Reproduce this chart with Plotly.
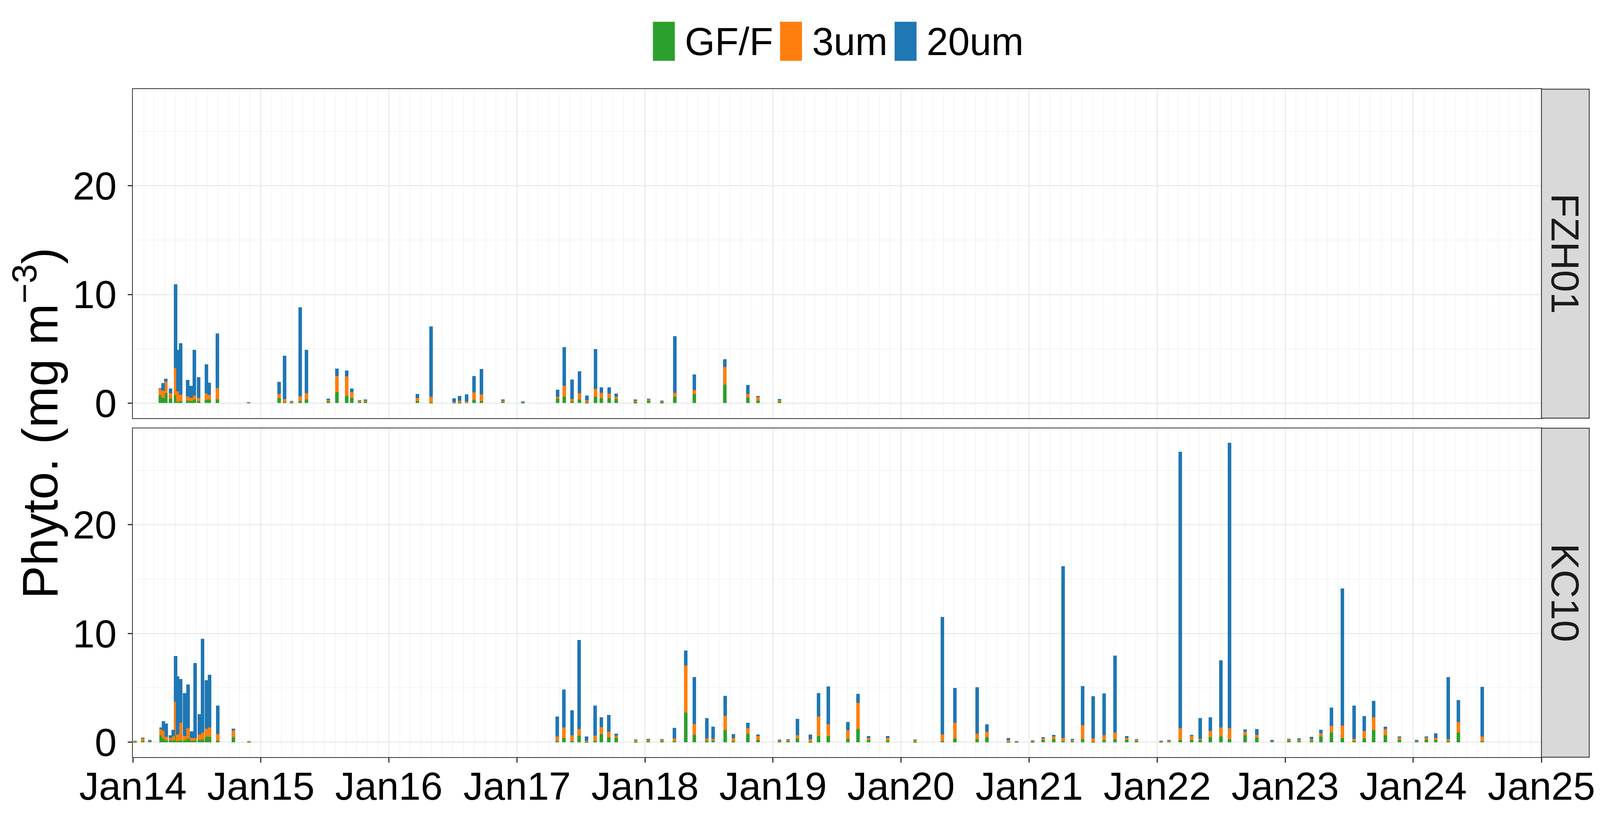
import plotly.graph_objects as go
from plotly.subplots import make_subplots

# size classes (stack order bottom -> top)
size_classes = ["GF/F", "3um", "20um"]
class_colors = ["#2CA02C", "#FF7F0E", "#1F77B4"]
stations = ["FZH01", "KC10"]

# FZH01 samples
fzh01_dates = [
    "2014-03-21", "2014-03-28", "2014-04-05", "2014-04-18", "2014-05-03", "2014-05-10",
    "2014-05-17", "2014-06-07", "2014-06-17", "2014-06-26", "2014-07-08", "2014-07-30",
    "2014-08-07", "2014-08-30", "2014-11-27", "2015-02-22", "2015-03-10", "2015-03-30",
    "2015-04-24", "2015-05-11", "2015-07-13", "2015-08-06", "2015-09-03", "2015-09-18",
    "2015-10-10", "2015-10-27", "2016-03-23", "2016-05-01", "2016-07-06", "2016-07-21",
    "2016-08-10", "2016-08-31", "2016-09-22", "2016-11-22", "2017-01-18", "2017-04-27",
    "2017-05-16", "2017-06-07", "2017-06-28", "2017-07-19", "2017-08-13", "2017-08-30",
    "2017-09-21", "2017-10-11", "2017-12-05", "2018-01-11", "2018-02-18", "2018-03-27",
    "2018-05-22", "2018-08-17", "2018-10-22", "2018-11-20", "2019-01-20",
]
fzh01_gff = [
    0.71, 0.47, 0.90, 0.39, 0.71, 0.10, 0.20, 0.24, 0.20, 0.33, 0.20, 0.29, 0.33, 0.33,
    0.02, 0.43, 0.08, 0.02, 0.18, 0.33, 0.16, 1.00, 0.67, 0.47, 0.08, 0.12, 0.20, 0.06,
    0.04, 0.04, 0.08, 0.28, 0.18, 0.14, 0.05, 0.39, 0.57, 0.14, 0.32, 0.07, 0.57, 0.43,
    0.43, 0.35, 0.07, 0.21, 0.07, 0.60, 0.85, 1.70, 0.50, 0.21, 0.14,
]
fzh01_3um = [
    0.61, 0.69, 1.10, 0.51, 2.53, 0.98, 0.55, 0.39, 0.27, 0.35, 0.29, 0.63, 0.43, 1.06,
    0.04, 0.39, 0.27, 0.08, 0.45, 0.57, 0.10, 1.49, 1.78, 0.55, 0.12, 0.12, 0.29, 0.51,
    0.04, 0.18, 0.06, 0.71, 0.63, 0.07, 0.05, 0.18, 1.03, 0.21, 0.57, 0.18, 0.74, 0.50,
    0.43, 0.25, 0.18, 0.11, 0.11, 0.35, 0.34, 1.62, 0.34, 0.32, 0.14,
]
fzh01_20um = [
    0.06, 0.69, 0.24, 0.45, 7.67, 3.82, 4.76, 1.51, 1.12, 4.22, 1.90, 2.63, 1.10, 5.02,
    0.02, 1.14, 4.02, 0.08, 8.18, 4.00, 0.16, 0.67, 0.55, 0.33, 0.04, 0.08, 0.35, 6.47,
    0.35, 0.43, 0.67, 1.49, 2.32, 0.11, 0.02, 0.67, 3.55, 1.81, 2.02, 0.43, 3.65, 0.53,
    0.60, 0.28, 0.07, 0.09, 0.04, 5.20, 1.45, 0.71, 0.82, 0.14, 0.07,
]

# KC10 samples
kc10_dates = [
    "2014-01-07", "2014-01-29", "2014-02-18", "2014-03-23", "2014-03-29", "2014-04-06",
    "2014-04-18", "2014-04-26", "2014-05-03", "2014-05-09", "2014-05-18", "2014-05-29",
    "2014-06-08", "2014-06-18", "2014-06-28", "2014-07-10", "2014-07-19", "2014-07-30",
    "2014-08-08", "2014-08-31", "2014-10-15", "2014-11-29",
    "2017-04-26", "2017-05-15", "2017-06-07", "2017-06-27", "2017-07-18", "2017-08-12",
    "2017-08-30", "2017-09-20", "2017-10-11", "2017-12-06", "2018-01-10", "2018-02-18",
    "2018-03-26", "2018-04-27", "2018-05-22", "2018-06-26", "2018-07-14", "2018-08-18",
    "2018-09-10", "2018-10-22", "2018-11-20", "2019-01-20", "2019-02-13", "2019-03-12",
    "2019-04-18", "2019-05-11", "2019-06-08", "2019-08-03", "2019-09-01", "2019-10-01",
    "2019-11-25", "2020-02-11", "2020-04-29", "2020-06-03", "2020-08-06", "2020-09-02",
    "2020-11-03", "2020-11-26", "2021-01-11", "2021-02-10", "2021-03-12", "2021-04-08",
    "2021-05-04", "2021-06-03", "2021-07-03", "2021-08-03", "2021-09-03", "2021-10-06",
    "2021-11-03", "2022-01-13", "2022-02-04", "2022-03-08", "2022-04-09", "2022-05-04",
    "2022-06-02", "2022-07-02", "2022-07-27", "2022-09-09", "2022-10-12", "2022-11-25",
    "2023-01-12", "2023-02-10", "2023-03-17", "2023-04-13", "2023-05-13", "2023-06-14",
    "2023-07-17", "2023-08-15", "2023-09-11", "2023-10-14", "2023-11-23", "2024-01-11",
    "2024-02-08", "2024-03-06", "2024-04-11", "2024-05-10", "2024-07-17",
]
kc10_gff = [
    0.05, 0.12, 0.12, 0.65, 0.37, 0.18, 0.18, 0.18, 0.65, 0.12, 0.18, 0.18, 0.33, 0.16,
    0.16, 0.24, 0.27, 0.51, 0.51, 0.16, 0.47, 0.02,
    0.13, 0.42, 0.13, 0.61, 0.04, 0.17, 0.77, 0.49, 0.45, 0.06, 0.13, 0.10, 0.13, 2.73,
    0.70, 0.17, 0.17, 1.13, 0.13, 0.81, 0.23, 0.10, 0.13, 0.38, 0.06, 0.59, 0.59, 0.34,
    1.24, 0.21, 0.17, 0.06, 0.13, 0.38, 0.31, 0.49, 0.04, 0.01, 0.06, 0.21, 0.31, 0.13,
    0.10, 0.31, 0.06, 0.21, 0.31, 0.21, 0.13, 0.02, 0.10, 0.23, 0.21, 0.21, 0.49, 0.53,
    0.31, 0.66, 0.45, 0.10, 0.17, 0.13, 0.17, 0.53, 0.92, 0.42, 0.13, 0.38, 1.13, 0.66,
    0.23, 0.10, 0.27, 0.23, 0.10, 0.92, 0.13,
]
kc10_3um = [
    0.08, 0.27, 0.06, 0.57, 0.71, 0.33, 0.22, 0.39, 3.08, 0.59, 1.61, 0.39, 0.96, 0.24,
    0.24, 0.47, 0.63, 0.76, 0.88, 0.59, 0.63, 0.08,
    0.43, 0.96, 0.53, 0.63, 0.10, 0.45, 0.64, 0.49, 0.17, 0.15, 0.13, 0.13, 0.25, 4.34,
    0.99, 0.21, 0.17, 1.31, 0.28, 0.50, 0.36, 0.11, 0.10, 0.28, 0.25, 1.79, 1.08, 0.78,
    2.41, 0.21, 0.25, 0.15, 0.61, 1.42, 0.50, 0.49, 0.20, 0.06, 0.07, 0.17, 0.22, 0.28,
    0.11, 1.29, 0.32, 0.45, 0.58, 0.21, 0.10, 0.07, 0.07, 1.08, 0.38, 0.13, 0.56, 0.85,
    1.00, 0.32, 0.25, 0.04, 0.10, 0.13, 0.13, 0.32, 0.60, 1.14, 0.21, 0.67, 1.18, 0.58,
    0.22, 0.04, 0.18, 0.18, 0.21, 0.96, 0.43,
]
kc10_20um = [
    0.01, 0.06, 0.04, 0.16, 0.88, 1.22, 0.24, 0.57, 4.20, 5.37, 4.02, 3.96, 4.02, 0.61,
    6.90, 1.90, 8.61, 4.43, 4.84, 2.63, 0.16, 0.01,
    1.81, 3.49, 2.28, 8.19, 0.39, 2.75, 0.89, 1.53, 0.18, 0.06, 0.07, 0.07, 0.96, 1.38,
    4.31, 1.85, 1.10, 1.83, 0.36, 0.49, 0.15, 0.06, 0.07, 1.50, 0.43, 2.17, 3.48, 0.75,
    0.82, 0.17, 0.17, 0.06, 10.78, 3.21, 4.26, 0.69, 0.18, 0.04, 0.07, 0.11, 0.17, 15.80,
    0.13, 3.59, 3.85, 3.85, 7.08, 0.15, 0.07, 0.07, 0.06, 25.40, 0.11, 1.89, 1.25, 6.16,
    26.23, 0.22, 0.54, 0.07, 0.04, 0.11, 0.22, 0.32, 1.70, 12.60, 3.06, 1.38, 1.50, 0.21,
    0.11, 0.07, 0.11, 0.43, 5.70, 2.00, 4.55,
]

# axis ticks
x_range = ["2014-01-01", "2025-01-01"]
y_range = [-1.375, 28.875]
y_ticks = [0, 10, 20]

# layout is worked out on the 4800x2100 picture and given as paper fractions,
# sizes in px are shrunk by the page zoom seen in the browser
REF_W, REF_H = 4800, 2100
S = 0.871
FONT = "Liberation Sans"
BAR_W = 10 * 86400000  # 10 days in ms


def fx(x):
    return x / REF_W


def fy(y):
    return 1 - y / REF_H


top_dom = [fy(1071), fy(222)]
bot_dom = [fy(1946), fy(1097)]
x_dom = [fx(391), fx(4633)]

fig = make_subplots(rows=2, cols=1, shared_xaxes=True)

station_data = [
    (fzh01_dates, [fzh01_gff, fzh01_3um, fzh01_20um]),
    (kc10_dates, [kc10_gff, kc10_3um, kc10_20um]),
]
for row, (dates, parts) in enumerate(station_data, start=1):
    for name, vals, col in zip(size_classes, parts, class_colors):
        fig.add_trace(go.Bar(x=dates, y=vals, name=name, width=BAR_W,
                             marker=dict(color=col, line=dict(width=0)),
                             showlegend=False), row=row, col=1)

grid = "#EBEBEB"
axis_common = dict(showline=True, linecolor="#333333", linewidth=2.5 * S, mirror=True,
                   showgrid=True, gridcolor=grid, gridwidth=3.4 * S, zeroline=False,
                   automargin=False)
tick_font = dict(family=FONT, size=116 * S, color="black")

for i, dom in [(1, top_dom), (2, bot_dom)]:
    fig.update_layout(**{
        ("xaxis" if i == 1 else "xaxis2"): dict(
            axis_common, type="date", domain=x_dom, range=x_range, dtick="M12",
            tick0="2014-01-01", tickformat="%b%y",
            minor=dict(dtick="M1", showgrid=True, gridcolor=grid, gridwidth=1.7 * S),
            showticklabels=(i == 2), ticks=("outside" if i == 2 else ""),
            ticklen=13 * S, tickwidth=3 * S, tickcolor="#333333", tickfont=tick_font,
            ticklabelstandoff=-26,
        ),
        ("yaxis" if i == 1 else "yaxis2"): dict(
            axis_common, domain=dom, range=y_range, tickvals=y_ticks,
            minor=dict(dtick=5, tick0=0, showgrid=True, gridcolor=grid, gridwidth=1.7 * S),
            ticks="outside", ticklen=13 * S, tickwidth=3 * S, tickcolor="#333333",
            tickfont=tick_font, ticklabelstandoff=8,
        ),
    })

shapes = []
annotations = []

# facet strips on the right
for name, dom in zip(stations, [top_dom, bot_dom]):
    shapes.append(dict(type="rect", xref="paper", yref="paper", x0=fx(4633), x1=fx(4777),
                       y0=dom[0], y1=dom[1], fillcolor="#D9D9D9",
                       line=dict(color="#333333", width=2.5 * S), layer="above"))
    annotations.append(dict(text=name, xref="paper", yref="paper",
                            x=fx(4705), y=(dom[0] + dom[1]) / 2,
                            textangle=90, showarrow=False, xanchor="center", yanchor="middle",
                            font=dict(family=FONT, size=116 * S, color="#1A1A1A")))

# legend drawn at the top
key_left = [1957, 2340, 2685]
for name, col, kx in zip(size_classes, class_colors, key_left):
    shapes.append(dict(type="rect", xref="paper", yref="paper", x0=fx(kx), x1=fx(kx + 66),
                       y0=fy(149), y1=fy(48), fillcolor=col, line=dict(width=0)))
    annotations.append(dict(text=name, xref="paper", yref="paper", x=fx(kx + 94),
                            y=fy(99), xanchor="left", yanchor="middle", showarrow=False,
                            font=dict(family=FONT, size=114 * S, color="black")))

# shared y title
annotations.append(dict(text="Phyto. (mg m<sup>\u22123</sup>)", xref="paper", yref="paper",
                        x=fx(100), y=fy(1084), textangle=-90, showarrow=False,
                        xanchor="center", yanchor="middle",
                        font=dict(family=FONT, size=146 * S, color="black")))

fig.update_layout(
    autosize=True, barmode="stack", bargap=0,
    margin=dict(l=0, r=0, t=0, b=0, pad=0, autoexpand=False),
    plot_bgcolor="white", paper_bgcolor="white",
    shapes=shapes, annotations=annotations, showlegend=False,
)

fig.write_html("out.html")
